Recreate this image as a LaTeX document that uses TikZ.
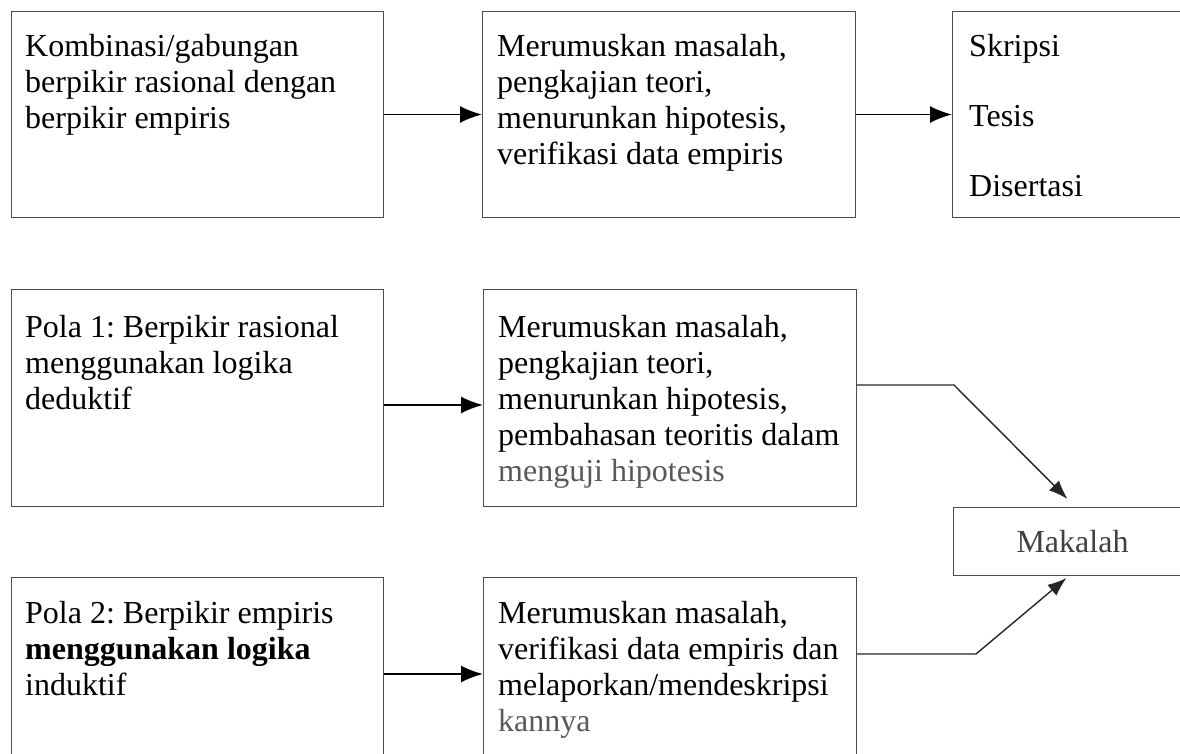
\documentclass[tikz,border=0pt]{standalone}
\usepackage{fontspec}
\setmainfont{Liberation Serif}
\usetikzlibrary{positioning, arrows.meta}

\begin{document}
\begin{tikzpicture}[
  kotak/.style={draw=black!70, line width=1pt, inner sep=0pt, font=\fontsize{32pt}{36pt}\selectfont},
  teks/.style={align=left, inner sep=0pt, font=\fontsize{32pt}{36pt}\selectfont\frenchspacing},
  panah/.style={-{Latex[length=22pt,width=17pt]}, line width=1.8pt},
  miring/.style={-{Latex[length=19pt,width=14pt]}, line width=1.4pt, black!85}
]
  \useasboundingbox (0,0) rectangle (1180pt,-754pt);
  \clip (0,0) rectangle (1180pt,-754pt);

  % baris atas
  \node[kotak, minimum width=372pt, minimum height=206pt, anchor=north west] (K) at (11pt,-11pt) {};
  \node[kotak, minimum width=373pt, minimum height=206pt, right=98pt of K]  (R1) {};
  \node[kotak, minimum width=238pt, minimum height=206pt, right=96pt of R1] (S)  {};

  % pola 1 dan pola 2
  \node[kotak, minimum width=372pt, minimum height=217pt, below=71pt of K]  (P1) {};
  \node[kotak, minimum width=373pt, minimum height=217pt, right=99pt of P1] (R2) {};
  \node[kotak, minimum width=372pt, minimum height=177pt, below=70pt of P1] (P2) {};
  \node[kotak, minimum width=373pt, minimum height=177pt, right=99pt of P2] (R3) {};
  \node[kotak, minimum width=238pt, minimum height=68pt, text=black!75,
        below right=0pt and 96pt of R2.south east] (M) {Makalah};

  \node[teks, below right=23pt and 14pt of K.north west]  (Kt)  {Kombinasi/gabungan\\berpikir rasional dengan\\berpikir empiris};
  \node[teks, below right=23pt and 15pt of R1.north west] (R1t) {Merumuskan masalah,\\pengkajian teori,\\menurunkan hipotesis,\\verifikasi data empiris};
  \node[teks, below right=23pt and 17pt of S.north west]  (St)  {Skripsi\\[34pt]Tesis\\[34pt]Disertasi};
  \node[teks, below right=26pt and 14pt of P1.north west] (P1t) {Pola 1: Berpikir rasional\\menggunakan logika\\deduktif};
  \node[teks, below right=26pt and 15pt of R2.north west] (R2t) {Merumuskan masalah,\\pengkajian teori,\\menurunkan hipotesis,\\pembahasan teoritis dalam\\{\color{black!65}menguji hipotesis}};
  \node[teks, below right=24pt and 14pt of P2.north west] (P2t) {Pola 2: Berpikir empiris\\\textbf{menggunakan logika}\\induktif};
  \node[teks, below right=24pt and 15pt of R3.north west] (R3t) {Merumuskan masalah,\\verifikasi data empiris dan\\melaporkan/mendeskripsi\\{\color{black!65}kannya}};

  \coordinate (T1) at ([xshift=97pt,yshift=13pt]R2.east);
  \coordinate (T2) at ([xshift=119pt,yshift=12pt]R3.east);

  \draw[panah] (K) -- (R1);
  \draw[panah] (R1) -- (S);
  \draw[panah] ([yshift=-7pt]P1.east) -- ([yshift=-7pt]R2.west);
  \draw[panah] ([yshift=-8pt]P2.east) -- ([yshift=-8pt]R3.west);
  \draw[miring] ([yshift=13pt]R2.east) -- (T1) -- ([xshift=-5pt,yshift=8pt]M.north);
  \draw[miring] ([yshift=12pt]R3.east) -- (T2) -- ([xshift=-6pt,yshift=-2pt]M.south);
\end{tikzpicture}
\end{document}
